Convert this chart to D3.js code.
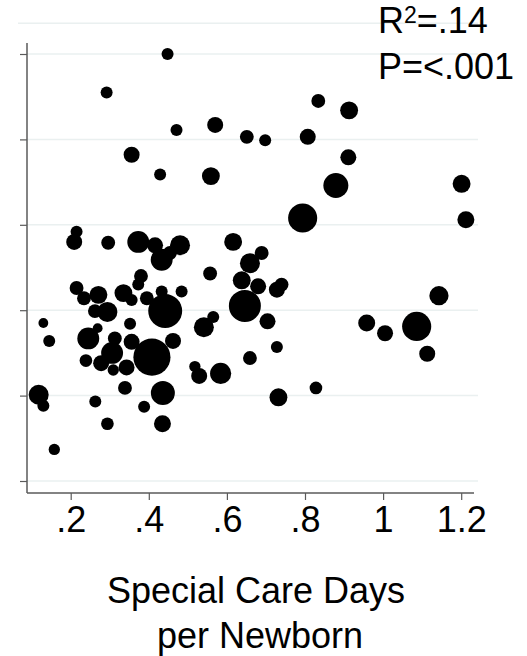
<!DOCTYPE html>
<html>
<head>
	<title>Scatter</title>
	<meta charset='utf-8'>
	<style>
		body {
			margin: 0;
			background-color: #fff;
		}

		text {
			font-family: 'Liberation Sans', Arial, sans-serif;
			fill: #000;
		}

		.grid line {
			stroke: #eaf0f0;
			stroke-width: 1.5px;
		}

		.axis path.domain {
			stroke: #5a5a5a;
			stroke-width: 1.5px;
		}

		.axis .tick line {
			stroke: #5a5a5a;
			stroke-width: 1.2px;
		}

		.axis .tick text {
			font-size: 36px;
		}

		.dot {
			fill: #000;
		}
	</style>
</head>
<body>

<script src='https://d3js.org/d3.v7.min.js'></script>
<script>
	'use strict';

	// special care days per newborn
	const careDays = [
		0.448, 0.292, 0.356, 0.471, 0.570, 0.429, 0.559, 0.651, 0.698, 0.834,
		0.913, 0.807, 0.911, 0.879, 0.794, 1.201, 1.212, 0.215, 0.209, 0.296,
		0.373, 0.416, 0.480, 0.433, 0.454, 0.616, 0.659, 0.689, 0.557, 0.638,
		0.680, 0.728, 0.740, 0.646, 0.704, 0.484, 0.442, 0.442, 0.541, 0.565,
		0.215, 0.234, 0.271, 0.262, 0.294, 0.335, 0.356, 0.373, 0.380, 0.395,
		0.433, 0.130, 0.145, 0.245, 0.269, 0.239, 0.278, 0.306, 0.313, 0.309,
		0.343, 0.352, 0.356, 0.408, 0.462, 0.728, 0.659, 0.518, 0.529, 0.584,
		0.732, 0.828, 0.958, 1.005, 1.086, 1.113, 1.143, 0.118, 0.130, 0.263,
		0.339, 0.436, 0.388, 0.294, 0.435, 0.158
	];
	// y measure (axis drawn without labels)
	const outcome = [
		5.00, 4.55, 3.82, 4.11, 4.17, 3.59, 3.57, 4.03, 3.99, 4.45,
		4.34, 4.03, 3.79, 3.46, 3.08, 3.48, 3.06, 2.92, 2.80, 2.79,
		2.80, 2.76, 2.76, 2.59, 2.67, 2.80, 2.55, 2.67, 2.43, 2.35,
		2.28, 2.24, 2.30, 2.05, 1.87, 2.22, 1.99, 1.87, 1.80, 1.92,
		2.26, 2.14, 2.18, 1.99, 1.98, 2.20, 2.12, 2.30, 2.40, 2.14,
		2.22, 1.85, 1.64, 1.67, 1.79, 1.41, 1.38, 1.50, 1.67, 1.30,
		1.33, 1.84, 1.63, 1.45, 1.64, 1.57, 1.44, 1.34, 1.23, 1.26,
		0.98, 1.09, 1.85, 1.73, 1.81, 1.49, 2.17, 1.01, 0.88, 0.93,
		1.09, 1.03, 0.87, 0.67, 0.67, 0.37
	];
	// marker weight (number of births)
	const births = [
		9, 9, 16, 9, 16, 9, 20, 12, 9, 12,
		20, 16, 16, 39, 53, 20, 18, 9, 16, 12,
		30, 16, 25, 30, 12, 20, 25, 12, 12, 20,
		16, 16, 12, 64, 16, 9, 72, 9, 25, 9,
		12, 12, 20, 12, 25, 20, 9, 9, 12, 12,
		9, 6, 9, 30, 6, 10, 16, 30, 12, 8,
		16, 9, 16, 86, 16, 9, 12, 8, 16, 28,
		20, 10, 18, 16, 53, 16, 23, 25, 9, 9,
		12, 36, 9, 10, 18, 8
	];

	const xTicks = [0.2, 0.4, 0.6, 0.8, 1, 1.2];
	const yTicks = [0, 1, 2, 3, 4, 5];
	const stats = ['=.14', 'P=<.001'];

	const width = 527;
	const height = 656;
	const plot = {left: 27, right: 474, top: 43, bottom: 493};

	const xScale = d3.scaleLinear().domain([0.2, 1.2]).range([70.7, 461.2]);
	const yScale = d3.scaleLinear().domain([0, 5]).range([481, 54]);
	const rScale = d3.scaleSqrt().domain([0, 100]).range([0, 20]);

	const data = careDays.map(function(d, i) {
		return {x: d, y: outcome[i], w: births[i]};
	});

	const svg = d3.select('body').append('svg')
		.attr('width', width)
		.attr('height', height);

	// gridlines
	const grid = svg.append('g').attr('class', 'grid');
	grid.selectAll('line')
		.data(yTicks)
		.enter()
		.append('line')
		.attr('x1', plot.left)
		.attr('x2', 478)
		.attr('y1', function(d) {return yScale(d);})
		.attr('y2', function(d) {return yScale(d);});
	// faint line above the plot region
	grid.append('line')
		.attr('x1', 18)
		.attr('x2', 478)
		.attr('y1', yScale(5.36))
		.attr('y2', yScale(5.36));

	svg.append('g')
		.attr('class', 'axis axis__x')
		.attr('transform', 'translate(0,' + plot.bottom + ')')
		.call(d3.axisBottom(xScale)
			.tickValues(xTicks)
			.tickSize(7)
			.tickSizeOuter(0)
			.tickPadding(6)
			.tickFormat(function(d) {return d3.format('.1f')(d).replace(/^0/, '').replace(/\.0$/, '');})
		)
		.call(function(g) {
			g.select('.domain').attr('d', 'M' + plot.left + ',0H' + plot.right);
		});

	svg.append('g')
		.attr('class', 'axis axis__y')
		.attr('transform', 'translate(' + plot.left + ',0)')
		.call(d3.axisLeft(yScale)
			.tickValues(yTicks)
			.tickSize(7)
			.tickSizeOuter(0)
			.tickFormat('')
		)
		.call(function(g) {
			g.select('.domain').attr('d', 'M0,' + plot.top + 'V' + plot.bottom);
		});

	svg.selectAll('.dot')
		.data(data)
		.enter()
		.append('circle')
		.attr('class', 'dot')
		.attr('cx', function(d) {return xScale(d.x);})
		.attr('cy', function(d) {return yScale(d.y);})
		.attr('r', function(d) {return rScale(d.w);});

	// R2 and p value
	const r2 = svg.append('text')
		.attr('x', 378)
		.attr('y', 33)
		.style('font-size', '36px');
	r2.append('tspan').text('R');
	r2.append('tspan')
		.attr('dy', -10)
		.style('font-size', '23px')
		.text('2');
	r2.append('tspan')
		.attr('dy', 10)
		.text(stats[0]);

	svg.append('text')
		.attr('x', 378)
		.attr('y', 79)
		.style('font-size', '36px')
		.text(stats[1]);

	// axis title
	svg.append('text')
		.attr('x', 256)
		.attr('y', 603)
		.attr('text-anchor', 'middle')
		.style('font-size', '36px')
		.text('Special Care Days');

	svg.append('text')
		.attr('x', 260)
		.attr('y', 648)
		.attr('text-anchor', 'middle')
		.style('font-size', '36px')
		.text('per Newborn');
</script>
</body>
</html>
